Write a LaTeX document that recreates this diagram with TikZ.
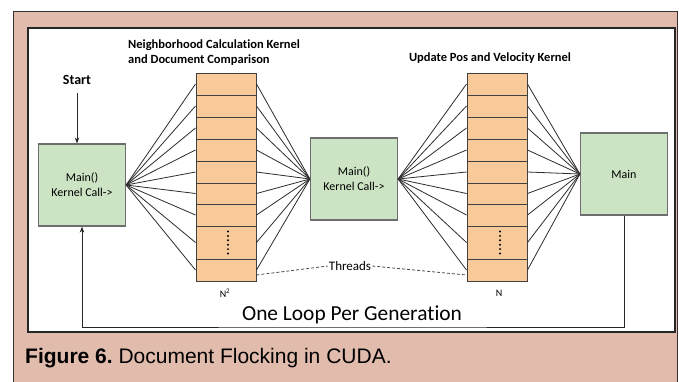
\documentclass[tikz,border=0pt]{standalone}
\usepackage{fontspec}
\setmainfont{Carlito}[Ligatures=NoCommon]
\newfontfamily\arialfont{Liberation Sans}
\usetikzlibrary{arrows.meta,calc}
\definecolor{pinkbg}{RGB}{225,188,173}
\definecolor{boxgreen}{RGB}{204,228,196}
\definecolor{celloranje}{RGB}{248,202,153}
\definecolor{boxedge}{RGB}{110,110,110}
\definecolor{celledge}{RGB}{65,65,65}
\definecolor{fanline}{RGB}{45,45,45}
\begin{document}
\begin{tikzpicture}[x=1pt,y=-1pt,
  greenbox/.style={draw=boxedge,fill=boxgreen,line width=1.2pt,minimum width=87pt,minimum height=82pt,inner sep=0pt,align=center,font=\fontsize{12}{15}\selectfont},
  cellbox/.style={draw=celledge,fill=celloranje,line width=1pt,minimum width=60pt,inner sep=0pt},
  fan/.style={draw=fanline,line width=0.8pt},
  arr/.style={draw=black!85,line width=0.8pt,-{Stealth[length=6pt,width=4.5pt]}},
  thr/.style={draw=black!70,line width=0.8pt,dash pattern=on 3pt off 2pt},
  boldlabel/.style={inner sep=0pt,font=\bfseries\fontsize{12.5}{15}\selectfont},
  dotmark/.style={fill=black}
]
\useasboundingbox (0,0) rectangle (679,381);
% backgrounds
\fill[white] (0,0) rectangle (679,381);
\draw[fill=pinkbg,draw=black!80,line width=1pt] (13.5,11.5) rectangle (677.5,390);
\draw[fill=white,draw=black!85,line width=1.2pt] (28,28) rectangle (675,332);

% main boxes
\node[greenbox] (lbox) at (82,185) {Main()\\Kernel Call->};
\node[greenbox] (mbox) at (354,179) {Main()\\Kernel Call->};
\node[greenbox] (rbox) at (624,174) {Main};

% columns
\foreach \i/\yc/\h in {1/84/22,2/106/22,3/128/22,4/150/22,5/172/22,6/193.5/21,7/215/22,8/242.5/33,9/270/22}{
  \node[cellbox,minimum height=\h pt] (a\i) at (226,\yc) {};
  \node[cellbox,minimum height=\h pt] (b\i) at (497,\yc) {};
}
% dots
\foreach \d in {-11,-6.6,-2.2,2.2,6.6,11}{
  \fill[dotmark] ($(a8.center)+(2,\d)$) circle (1.1pt);
  \fill[dotmark] ($(b8.center)+(3,\d)$) circle (1.1pt);
}

% fan lines
\foreach \i in {1,...,9}{
  \draw[fan] (lbox.east) -- (a\i.west);
  \draw[fan] (a\i.east) -- (mbox.west);
  \draw[fan] (mbox.east) -- (b\i.west);
  \draw[fan] (b\i.east) -- (rbox.west);
}

% labels
\node[boldlabel,anchor=north west,align=left] (nlabel) at (128,40) {Neighborhood Calculation Kernel\\and Document Comparison};
\node[boldlabel] (ulabel) at (490,58) {Update Pos and Velocity Kernel};
\node[inner sep=0pt,font=\bfseries\fontsize{14}{16}\selectfont] (start) at (77,80) {Start};
\draw[arr] ([yshift=-8pt]start.south) -- (start.south |- lbox.north);

% threads
\node[inner sep=1pt,font=\fontsize{13}{15}\selectfont] (threads) at (350,266) {Threads};
\coordinate (ta) at ($(a9.east)+(0,5)$);
\coordinate (tb) at ($(b9.west)+(0,5)$);
\draw[thr] (ta) -- (threads.west);
\draw[thr] (threads.east) -- (tb);

\node[inner sep=0pt,font=\fontsize{10}{12}\selectfont] (n2) at (225,293) {N\textsuperscript{2}};
\node[inner sep=0pt,font=\fontsize{10}{12}\selectfont] (n1) at (499,293) {N};

% loop
\node[inner sep=0pt,font=\fontsize{21.4}{24}\selectfont] (loop) at (352,315) {One Loop Per Generation};
\coordinate (loopbot) at (352,327);
\draw[arr] (rbox.south) |- (loopbot) -| (lbox.south);

% caption
\node[anchor=base west,inner sep=0pt,font=\arialfont\fontsize{21}{24}\selectfont] (caption) at (25,363) {\textbf{Figure 6.}\ Document Flocking in CUDA.};
\end{tikzpicture}
\end{document}
